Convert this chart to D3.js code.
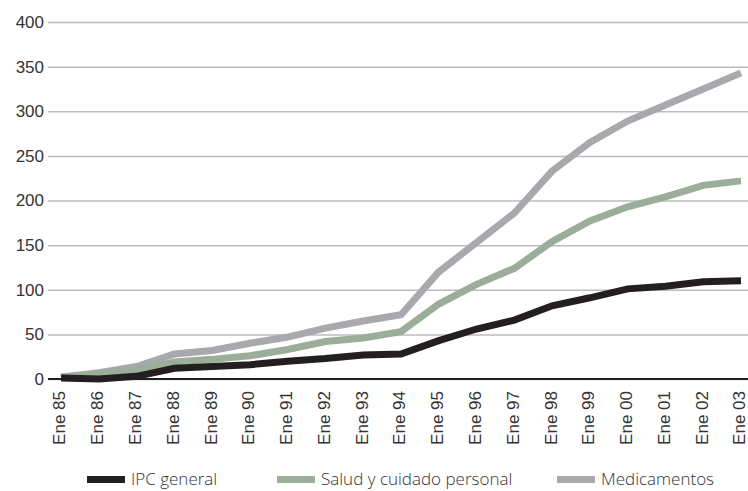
<!DOCTYPE html>
<html>
<head>
<meta charset="utf-8">
<script src="https://cdn.jsdelivr.net/npm/d3@7/dist/d3.min.js"></script>
<style>
  html, body { margin: 0; padding: 0; background: #fff; }
  svg { display: block; font-family: "Open Sans", "DejaVu Sans", sans-serif; font-weight: 300; }
</style>
</head>
<body>
<svg id="chart" width="748" height="491"></svg>
<script>
// Categories: January of each year, 1985–2003
const categories = ["Ene 85","Ene 86","Ene 87","Ene 88","Ene 89","Ene 90","Ene 91","Ene 92","Ene 93","Ene 94",
                    "Ene 95","Ene 96","Ene 97","Ene 98","Ene 99","Ene 00","Ene 01","Ene 02","Ene 03"];

// Cumulative % change since Jan 1985
const ipcGeneral   = [1, 0, 3, 12, 14, 16, 20, 23, 27, 28, 43, 56, 66, 82, 91, 101, 104, 109, 110];
const saludCuidado = [2, 6, 10, 19, 22, 26, 33, 42, 46, 53, 84, 106, 124, 154, 177, 193, 204, 217, 222];
const medicamentos = [2, 7, 14, 28, 32, 40, 47, 57, 65, 72, 120, 153, 186, 233, 265, 289, 307, 325, 343];

const yTicks = [0, 50, 100, 150, 200, 250, 300, 350, 400];

const seriesNames  = ["IPC general", "Salud y cuidado personal", "Medicamentos"];
const seriesColors = ["#231f20", "#9bae9a", "#a8a9ad"];

(function draw() {
  const svg = d3.select("#chart");
  const plotLeft = 48, plotRight = 748, plotTop = 22, plotBottom = 379;

  const x = d3.scalePoint().domain(categories).range([61, 741]);
  const y = d3.scaleLinear().domain([0, 400]).range([plotBottom, plotTop]);

  // Horizontal gridlines with value labels
  const yAxis = svg.append("g")
    .attr("transform", `translate(${plotLeft},0)`)
    .call(d3.axisLeft(y).tickValues(yTicks).tickSize(-(plotRight - plotLeft)).tickPadding(4))
    .call(g => g.select(".domain").remove());
  yAxis.selectAll(".tick line").attr("stroke", "#bcbcbc").attr("stroke-width", 1.5);
  yAxis.selectAll(".tick text")
    .attr("fill", "#333")
    .style("font-size", "17px")
    .style("font-weight", 300);

  // Baseline at zero
  svg.append("line")
    .attr("x1", plotLeft).attr("x2", plotRight)
    .attr("y1", y(0)).attr("y2", y(0))
    .attr("stroke", "#231f20").attr("stroke-width", 2);

  // Category labels, rotated
  const xAxis = svg.append("g")
    .attr("transform", `translate(0,${plotBottom})`)
    .call(d3.axisBottom(x).tickSize(0).tickPadding(0))
    .call(g => g.select(".domain").remove());
  xAxis.selectAll(".tick text")
    .attr("transform", "rotate(-90)")
    .attr("text-anchor", "end")
    .attr("x", -12)
    .attr("y", -2)
    .attr("dy", "0.35em")
    .attr("fill", "#333")
    .style("font-size", "17px")
    .style("font-weight", 300);

  // Series lines (drawn back to front)
  const series = [ipcGeneral, saludCuidado, medicamentos];
  const line = d3.line().x((d, i) => x(categories[i])).y(d => y(d));
  [2, 1, 0].forEach(k => {
    svg.append("path")
      .datum(series[k])
      .attr("fill", "none")
      .attr("stroke", seriesColors[k])
      .attr("stroke-width", 7)
      .attr("stroke-linejoin", "miter")
      .attr("d", line);
  });

  // Legend
  const legendX = [87, 277, 557];
  const legend = svg.append("g");
  seriesNames.forEach((name, i) => {
    legend.append("rect")
      .attr("x", legendX[i]).attr("y", 476)
      .attr("width", 38).attr("height", 7)
      .attr("fill", seriesColors[i]);
    legend.append("text")
      .attr("x", legendX[i] + 44).attr("y", 485)
      .attr("fill", "#333")
      .style("font-size", "17px")
      .style("font-weight", 300)
      .text(name);
  });
})();
</script>
</body>
</html>
